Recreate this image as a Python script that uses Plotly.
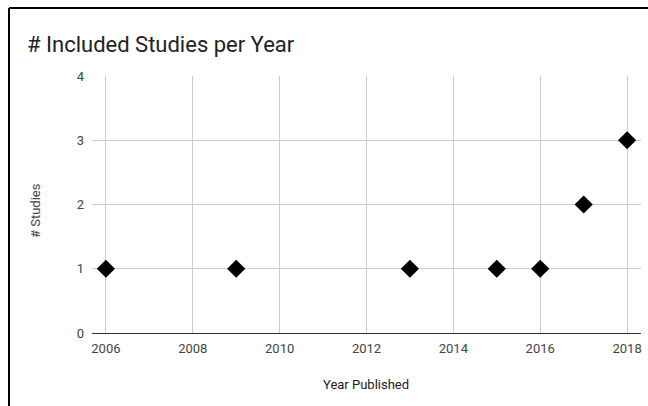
import plotly.graph_objects as go

years = [2006, 2009, 2013, 2015, 2016, 2017, 2018]
studies = [1, 1, 1, 1, 1, 2, 3]
x_ticks = [2006, 2008, 2010, 2012, 2014, 2016, 2018]
y_ticks = [0, 1, 2, 3, 4]

W, H = 648, 406
L, R, T, B = 92, 641, 76, 333
pw, ph = R - L, B - T

def px(x):
    return (x - L) / pw

def py(y):
    return (B - y) / ph

fig = go.Figure()
fig.add_trace(go.Scatter(
    x=years, y=studies, mode="markers",
    marker=dict(symbol="diamond", size=14, color="black"),
    cliponaxis=False, hoverinfo="x+y"))

fig.update_layout(
    width=W, height=H,
    margin=dict(l=L, r=W - R, t=T, b=H - B),
    paper_bgcolor="white", plot_bgcolor="white",
    font=dict(family="Roboto", size=13, color="#444444"),
    showlegend=False,
    title=dict(text="# Included Studies per Year", x=27 / W, xanchor="left",
               y=1 - 44 / H, yanchor="middle", xref="container", yref="container",
               font=dict(family="Roboto", size=22, color="#222222")),
    xaxis=dict(range=[2005.68, 2018.32], tickvals=x_ticks,
               ticktext=[str(v) for v in x_ticks],
               showgrid=True, gridcolor="#cccccc", gridwidth=1,
               zeroline=False, showline=False, ticks="", ticklabelstandoff=6,
               tickfont=dict(size=13, color="#444444")),
    yaxis=dict(range=[0, 4], tickvals=y_ticks,
               showgrid=True, gridcolor="#cccccc", gridwidth=1,
               zeroline=True, zerolinecolor="#333333", zerolinewidth=1,
               showline=False, ticks="", ticklabelstandoff=7,
               tickfont=dict(size=13, color="#444444")),
    annotations=[
        dict(text="Year Published", xref="paper", yref="paper",
             x=px(366), y=py(384), showarrow=False,
             xanchor="center", yanchor="middle",
             font=dict(size=13, color="#222222")),
        dict(text="# Studies", xref="paper", yref="paper",
             x=px(35), y=py(211), showarrow=False, textangle=-90,
             xanchor="center", yanchor="middle",
             font=dict(size=13, color="#444444")),
    ],
    shapes=[
        dict(type="line", xref="paper", yref="paper",
             x0=px(9), x1=px(W + 5), y0=py(8), y1=py(8),
             line=dict(color="black", width=2)),
        dict(type="line", xref="paper", yref="paper",
             x0=px(9), x1=px(9), y0=py(8), y1=py(H + 5),
             line=dict(color="black", width=2)),
    ],
)

fig.write_html("out.html")
